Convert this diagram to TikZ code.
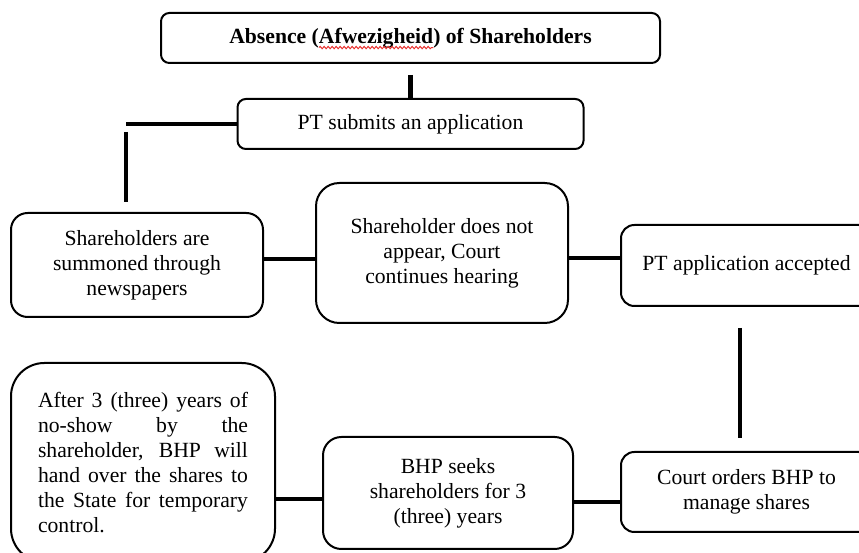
\documentclass[tikz,border=0pt]{standalone}
\usepackage{fontspec}
\setmainfont{Liberation Serif}
\usetikzlibrary{positioning,decorations.pathmorphing}
\definecolor{Squiggle}{HTML}{E8312F}
\tikzset{link/.style={draw=black,line width=2.8pt},box/.style={draw=black,line width=1.2pt,rounded corners=5pt,align=center,inner sep=0pt,font=\fontsize{13}{15}\selectfont},squiggle/.style={draw=Squiggle,line width=.6pt,decorate,decoration={snake,amplitude=.7pt,segment length=2.4pt}}}

\begin{document}
\fontsize{13}{15}\selectfont
\newlength\sqpre\settowidth\sqpre{\bfseries Absence (}
\newlength\sqword\settowidth\sqword{\bfseries Afwezigheid}
\newlength\sqfull\settowidth\sqfull{\bfseries Absence (Afwezigheid) of Shareholders}
\begin{tikzpicture}[x=0.6pt,y=-0.6pt]
\path[use as bounding box,clip] (0,0) rectangle (859,553);
\node[box,font=\fontsize{13}{15}\selectfont\bfseries,minimum width=299.4pt,minimum height=30pt] (title) at (410.5,38) {Absence (Afwezigheid) of Shareholders};
\node[box,minimum width=207.6pt,minimum height=30pt,below=20.4pt of title] (submit) {PT submits an application};
\node[box,rounded corners=14pt,minimum width=151.2pt,minimum height=84pt] (notappear) at (442,253) {Shareholder does not\\appear, Court\\continues hearing};
\node[box,rounded corners=10pt,minimum width=151.2pt,minimum height=62.4pt,left=30.6pt of notappear,yshift=-7.2pt] (summon) {Shareholders are\\summoned through\\newspapers};
\node[box,rounded corners=8pt,minimum width=150.6pt,minimum height=48.6pt,right=30.6pt of notappear,yshift=-7.5pt] (accepted) {PT application accepted};
\node[box,rounded corners=8pt,minimum width=150.6pt,minimum height=48pt,below=86.4pt of accepted] (court) {Court orders BHP to\\manage shares};
\node[box,rounded corners=11pt,minimum width=150pt,minimum height=67.2pt,left=27.6pt of court,yshift=-.6pt] (seeks) {BHP seeks\\shareholders for 3\\(three) years};
\node[box,rounded corners=20pt,minimum width=158.4pt,minimum height=119.4pt,align=left,left=27.6pt of seeks,yshift=18.3pt] (after) {\makebox[126pt][s]{After 3 (three) years of}\\\makebox[126pt][s]{no-show by the}\\\makebox[126pt][s]{shareholder, BHP will}\\\makebox[126pt][s]{hand over the shares to}\\\makebox[126pt][s]{the State for temporary}\\control.};
\draw[squiggle] ([xshift=\sqpre-0.5*\sqfull,yshift=-2.6pt]title.base) -- ++(\sqword,0);
\coordinate (top) at ([xshift=-6.6pt]summon.north);\coordinate (bend) at (top |- submit.west);
\coordinate (j1) at ([yshift=3.6pt]summon.east);\coordinate (j2) at ([yshift=4.5pt]accepted.west);
\coordinate (j3) at ([yshift=-6pt]court.west);\coordinate (j4) at ([yshift=-3.6pt]seeks.west);
\draw[link] ([yshift=-6.6pt]title.south) -- (submit.north);
\draw[link] (submit.west) -- (bend);\draw[link] ([yshift=-4.8pt]bend) -- ([yshift=6pt]top);
\draw[link] (j1) -- (j1 -| notappear.west);\draw[link] (j2) -- (j2 -| notappear.east);
\draw[link] ([xshift=-3.9pt,yshift=-12.6pt]accepted.south) -- ([xshift=-3.9pt,yshift=7.8pt]court.north);
\draw[link] (j3) -- (j3 -| seeks.east);\draw[link] (j4) -- (j4 -| after.east);
\end{tikzpicture}
\end{document}
